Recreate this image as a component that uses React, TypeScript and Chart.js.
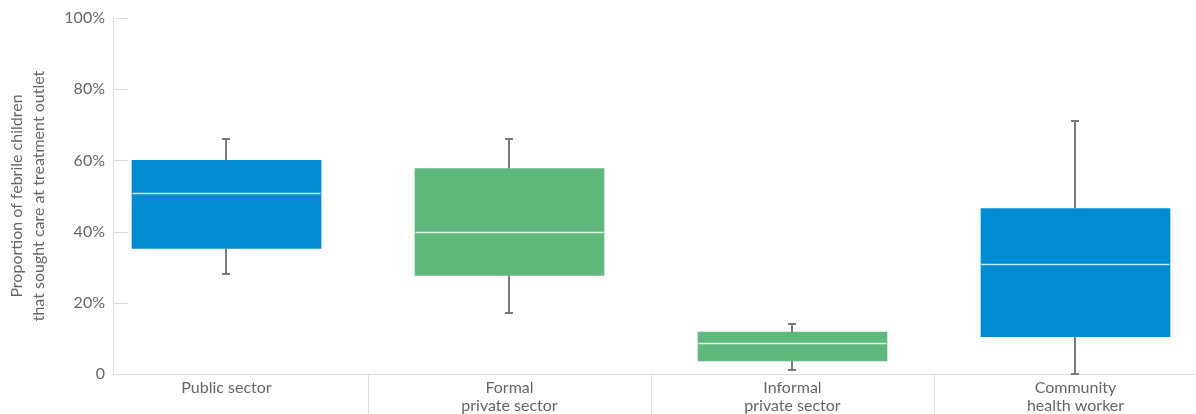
import React, { useEffect, useRef } from "react";
import { Chart, registerables } from "chart.js";

Chart.register(...registerables);

const categories: string[][] = [
  ["Public sector"],
  ["Formal", "private sector"],
  ["Informal", "private sector"],
  ["Community", "health worker"],
];
const mins = [28.1, 17.1, 1.0, 0];
const q1s = [35.3, 27.7, 3.7, 10.5];
const medians = [50.9, 39.8, 8.8, 30.9];
const q3s = [60.0, 57.7, 11.8, 46.5];
const maxs = [66.1, 66.1, 14.1, 71.1];
const boxColors = ["#008BD2", "#60B97C", "#60B97C", "#008BD2"];
const yTicks = [0, 20, 40, 60, 80, 100];

const FONT = "Lato, 'Open Sans', sans-serif";
const TEXT = "#666666";
const AXIS = "#dddddd";

const decorPlugin = {
  id: "boxDecor",
  afterDatasetsDraw(chart: any) {
    const { ctx, chartArea } = chart;
    const x = chart.scales.x;
    const y = chart.scales.y;
    ctx.save();
    // inner y tick marks
    ctx.strokeStyle = AXIS;
    ctx.lineWidth = 1;
    yTicks.forEach((v) => {
      const py = Math.round(y.getPixelForValue(v)) + 0.5;
      ctx.beginPath();
      ctx.moveTo(chartArea.left, py);
      ctx.lineTo(chartArea.left + 15, py);
      ctx.stroke();
    });
    // category separators below axis
    for (let i = 0; i < categories.length - 1; i++) {
      const px = Math.round(x.getPixelForValue(i + 0.5)) + 0.5;
      ctx.beginPath();
      ctx.moveTo(px, chartArea.bottom);
      ctx.lineTo(px, chart.height);
      ctx.stroke();
    }
    // whiskers
    ctx.strokeStyle = "#7a7a7a";
    ctx.lineWidth = 2;
    categories.forEach((_, i) => {
      const cx = Math.round(x.getPixelForValue(i));
      const segs = [
        [maxs[i], q3s[i]],
        [q1s[i], mins[i]],
      ];
      segs.forEach(([a, b]) => {
        const ya = y.getPixelForValue(a);
        const yb = y.getPixelForValue(b);
        ctx.beginPath();
        ctx.moveTo(cx, ya);
        ctx.lineTo(cx, yb);
        ctx.stroke();
      });
      [maxs[i], mins[i]].forEach((v) => {
        const py = Math.round(y.getPixelForValue(v));
        ctx.beginPath();
        ctx.moveTo(cx - 4, py);
        ctx.lineTo(cx + 4, py);
        ctx.stroke();
      });
      // median
      const bw = 189;
      const my = Math.round(y.getPixelForValue(medians[i])) + 0.5;
      ctx.strokeStyle = "rgba(255,255,255,0.8)";
      ctx.lineWidth = 1.5;
      ctx.beginPath();
      ctx.moveTo(cx - bw / 2 + 1, my);
      ctx.lineTo(cx + bw / 2, my);
      ctx.stroke();
      ctx.strokeStyle = "#7a7a7a";
      ctx.lineWidth = 2;
    });
    ctx.restore();
  },
};

export default function App() {
  const ref = useRef<HTMLCanvasElement>(null);
  useEffect(() => {
    if (!ref.current) return;
    const chart = new Chart(ref.current, {
      type: "bar",
      data: {
        datasets: [
          {
            data: categories.map((_, i) => ({ x: i, y: [q1s[i], q3s[i]] })) as any,
            backgroundColor: boxColors,
            borderWidth: 0,
            barThickness: 189,
          },
        ],
      },
      options: {
        animation: false,
        responsive: false,
        layout: { padding: { top: 18, right: 0, left: 0, bottom: 0 } },
        plugins: { legend: { display: false }, tooltip: { enabled: false } },
        scales: {
          x: {
            type: "linear",
            offset: false,
            bounds: "data",
            min: -0.401,
            max: 3.4258,
            afterBuildTicks(scale: any) {
              scale.ticks = categories.map((_, i) => ({ value: i }));
            },
            afterFit(scale: any) {
              scale.height = 40;
              scale.paddingLeft = 0;
              scale.paddingRight = 0;
            },
            grid: { display: false, drawTicks: false, offset: false },
            border: { display: true, color: AXIS, width: 1 },
            ticks: {
              autoSkip: false,
              maxRotation: 0,
              minRotation: 0,
              padding: 5,
              color: TEXT,
              font: { family: FONT, size: 16, lineHeight: 1.12 },
              callback: (v: any) => categories[Math.round(Number(v))] ?? "",
            },
          },
          y: {
            min: 0,
            max: 100,
            afterBuildTicks(scale: any) {
              scale.ticks = yTicks.map((v) => ({ value: v }));
            },
            afterFit(scale: any) {
              scale.width = 113;
            },
            grid: { display: false, drawTicks: false },
            border: { display: true, color: AXIS, width: 1 },
            ticks: {
              padding: 8,
              color: TEXT,
              font: { family: FONT, size: 16 },
              callback: (v: any) => (Number(v) === 0 ? "0" : v + "%"),
            },
            title: {
              display: true,
              text: ["Proportion of febrile children", "that sought care at treatment outlet"],
              color: TEXT,
              font: { family: FONT, size: 16, lineHeight: 1.35 },
              padding: { top: 6, bottom: 0 },
            },
          },
        },
      },
      plugins: [decorPlugin],
    });
    return () => chart.destroy();
  }, []);
  return (
    <div style={{ position: "absolute", left: 0, top: 0, width: 1196, height: 414, overflow: "hidden", background: "#fff" }}>
      <canvas ref={ref} width={1196} height={414} style={{ width: 1196, height: 414, display: "block" }} />
    </div>
  );
}
